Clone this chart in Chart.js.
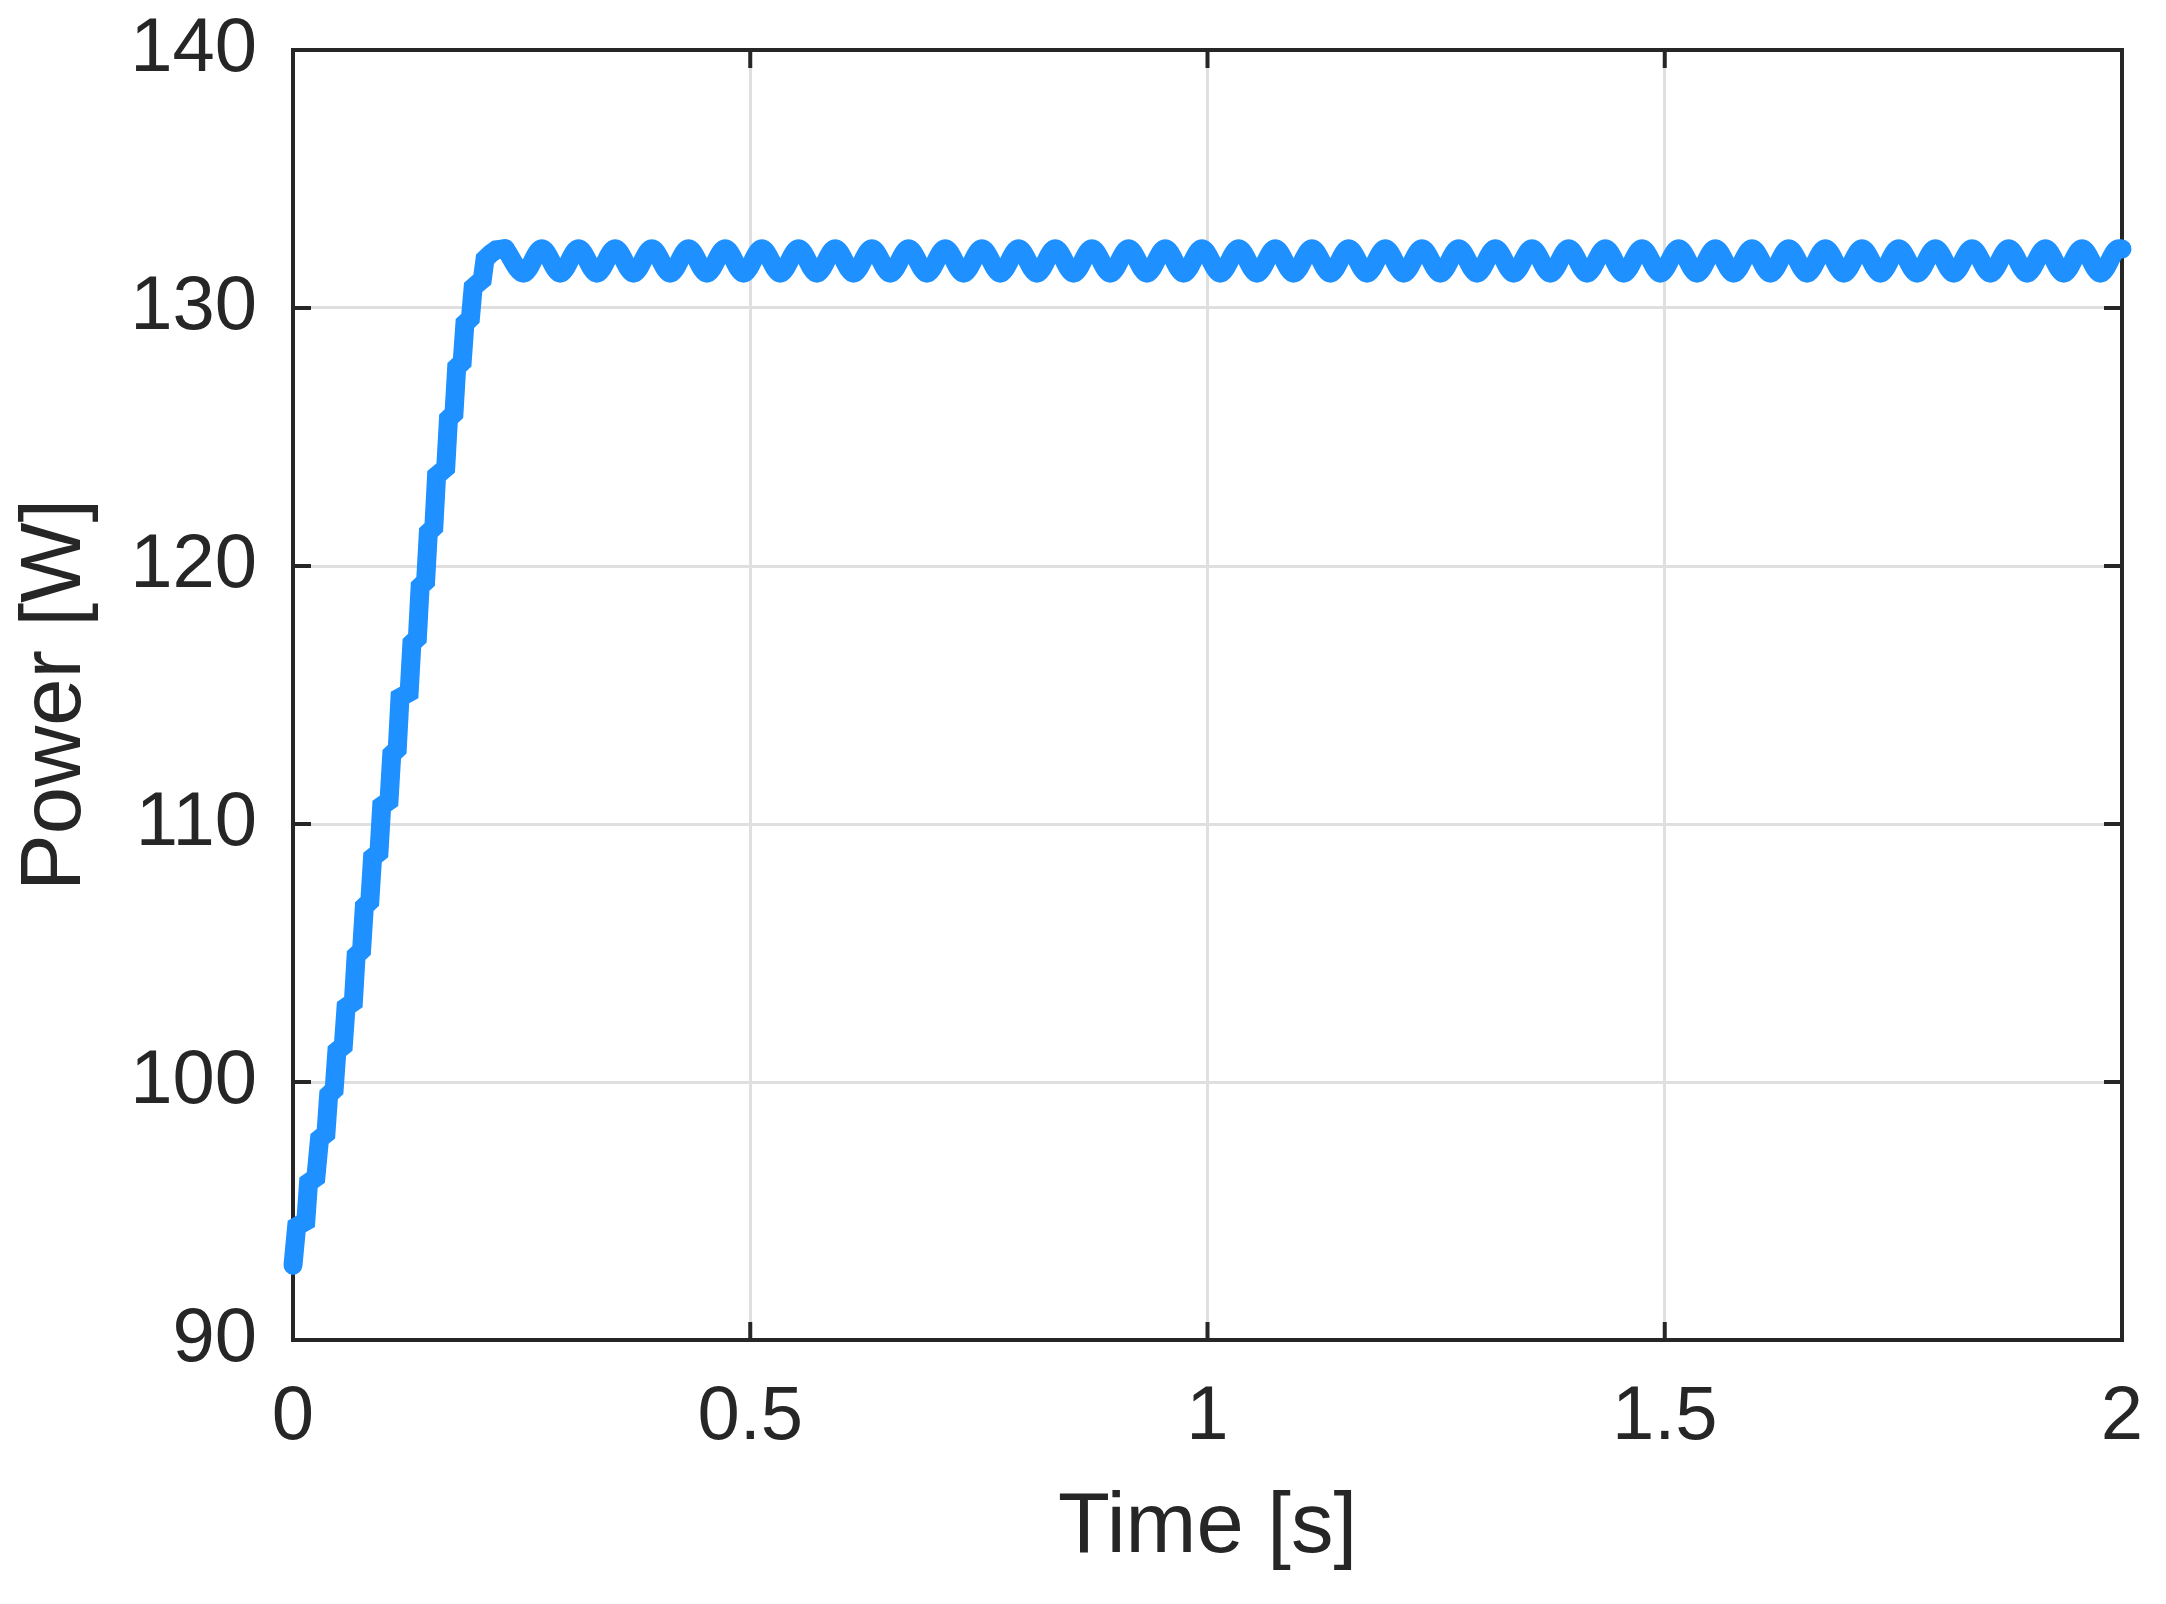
<!DOCTYPE html>
<html>
<head>
<meta charset="utf-8">
<title>Power [W]</title>
<script src="https://cdn.jsdelivr.net/npm/chart.js@4.4.1/dist/chart.umd.min.js"></script>
<style>
  html, body { margin: 0; padding: 0; background: #ffffff; }
  #chart { display: block; }
</style>
</head>
<body>
<canvas id="chart" width="2166" height="1604"></canvas>
<script>
// start-up ramp, a staircase (s, W)
const rampTime = [0.000, 0.004, 0.014, 0.017, 0.025, 0.029, 0.036, 0.039, 0.045, 0.048,
    0.055, 0.058, 0.066, 0.069, 0.075, 0.078, 0.084, 0.087, 0.094, 0.097,
    0.105, 0.108, 0.114, 0.117, 0.127, 0.130, 0.136, 0.139, 0.145, 0.148,
    0.154, 0.157, 0.167, 0.170, 0.176, 0.179, 0.185, 0.188, 0.194, 0.197,
    0.207, 0.210, 0.216, 0.222, 0.232];
const rampPower = [92.9, 94.4, 94.6, 96.1, 96.3, 97.8, 98.0, 99.5, 99.7, 101.2,
    101.4, 102.9, 103.1, 104.9, 105.1, 106.8, 107.0, 108.7, 108.9, 110.7,
    110.9, 112.7, 112.9, 114.9, 115.1, 117.0, 117.2, 119.2, 119.4, 121.3,
    121.5, 123.5, 123.8, 125.7, 125.9, 127.7, 127.9, 129.4, 129.6, 130.8,
    131.1, 131.9, 132.1, 132.25, 132.3];

// steady state ripple: peaks and troughs, in turn
const rippleTime = [0.2320, 0.2521, 0.2721, 0.2922, 0.3122, 0.3323, 0.3523, 0.3724, 0.3924, 0.4125,
    0.4325, 0.4526, 0.4726, 0.4927, 0.5127, 0.5328, 0.5528, 0.5729, 0.5929, 0.6130,
    0.6330, 0.6531, 0.6731, 0.6932, 0.7132, 0.7333, 0.7533, 0.7734, 0.7934, 0.8135,
    0.8335, 0.8536, 0.8736, 0.8937, 0.9137, 0.9338, 0.9538, 0.9739, 0.9939, 1.0140,
    1.0340, 1.0541, 1.0741, 1.0942, 1.1142, 1.1343, 1.1543, 1.1744, 1.1944, 1.2145,
    1.2345, 1.2546, 1.2746, 1.2947, 1.3147, 1.3348, 1.3548, 1.3749, 1.3949, 1.4150,
    1.4350, 1.4551, 1.4751, 1.4952, 1.5152, 1.5353, 1.5553, 1.5754, 1.5954, 1.6155,
    1.6355, 1.6556, 1.6756, 1.6957, 1.7157, 1.7358, 1.7558, 1.7759, 1.7959, 1.8160,
    1.8360, 1.8561, 1.8761, 1.8962, 1.9162, 1.9363, 1.9563, 1.9764, 1.9964, 2.0000];
const ripplePower = [132.3, 131.35, 132.3, 131.35, 132.3, 131.35, 132.3, 131.35, 132.3, 131.35,
    132.3, 131.35, 132.3, 131.35, 132.3, 131.35, 132.3, 131.35, 132.3, 131.35,
    132.3, 131.35, 132.3, 131.35, 132.3, 131.35, 132.3, 131.35, 132.3, 131.35,
    132.3, 131.35, 132.3, 131.35, 132.3, 131.35, 132.3, 131.35, 132.3, 131.35,
    132.3, 131.35, 132.3, 131.35, 132.3, 131.35, 132.3, 131.35, 132.3, 131.35,
    132.3, 131.35, 132.3, 131.35, 132.3, 131.35, 132.3, 131.35, 132.3, 131.35,
    132.3, 131.35, 132.3, 131.35, 132.3, 131.35, 132.3, 131.35, 132.3, 131.35,
    132.3, 131.35, 132.3, 131.35, 132.3, 131.35, 132.3, 131.35, 132.3, 131.35,
    132.3, 131.35, 132.3, 131.35, 132.3, 131.35, 132.3, 131.35, 132.3, 132.29];

const xTicks = [0, 0.5, 1, 1.5, 2];
const yTicks = [90, 100, 110, 120, 130, 140];
const xTitle = 'Time [s]';
const yTitle = 'Power [W]';

const lineColor = '#1e90ff';
const axisColor = '#262626';
const gridColor = '#dfdfdf';

Chart.defaults.font.family = '"Liberation Sans", Arial, Helvetica, sans-serif';
Chart.defaults.color = axisColor;

// MATLAB style box with inward ticks, drawn under the line
const axesBox = {
    id: 'axesBox',
    beforeDatasetsDraw(chart) {
        const { ctx, chartArea: a, scales: { x, y } } = chart;
        const len = 18;
        ctx.save();
        ctx.strokeStyle = axisColor;
        ctx.lineWidth = 4;
        ctx.beginPath();
        xTicks.forEach(v => {
            const px = x.getPixelForValue(v);
            ctx.moveTo(px, a.bottom); ctx.lineTo(px, a.bottom - len);
            ctx.moveTo(px, a.top); ctx.lineTo(px, a.top + len);
        });
        yTicks.forEach(v => {
            const py = y.getPixelForValue(v);
            ctx.moveTo(a.left, py); ctx.lineTo(a.left + len, py);
            ctx.moveTo(a.right, py); ctx.lineTo(a.right - len, py);
        });
        ctx.stroke();
        ctx.strokeRect(a.left, a.top, a.right - a.left, a.bottom - a.top);
        ctx.restore();
    }
};

const toPoints = (xs, ys) => xs.map((t, i) => ({ x: t, y: ys[i] }));

new Chart(document.getElementById('chart'), {
    type: 'line',
    data: {
        datasets: [{
            data: toPoints(rampTime, rampPower),
            borderColor: lineColor,
            borderWidth: 19,
            tension: 0,
            borderJoinStyle: 'miter',
            borderCapStyle: 'round',
            pointRadius: 0,
            clip: false
        }, {
            data: toPoints(rippleTime, ripplePower),
            borderColor: lineColor,
            borderWidth: 19,
            cubicInterpolationMode: 'monotone',
            borderJoinStyle: 'round',
            borderCapStyle: 'round',
            pointRadius: 0,
            clip: false
        }]
    },
    options: {
        responsive: false,
        animation: false,
        devicePixelRatio: 1,
        layout: { padding: { top: 50, right: 44, bottom: 0, left: 0 } },
        plugins: {
            legend: { display: false },
            tooltip: { enabled: false }
        },
        scales: {
            x: {
                type: 'linear',
                min: 0,
                max: 2,
                afterBuildTicks: s => { s.ticks = xTicks.map(v => ({ value: v })); },
                afterFit: s => {
                    s.height = 264;
                    s.paddingLeft = 0;
                    s.paddingRight = 0;
                },
                grid: { color: gridColor, lineWidth: 3, drawTicks: false },
                border: { display: false },
                ticks: {
                    padding: 32, maxRotation: 0, autoSkip: false, color: axisColor, font: { size: 76 },
                    callback: v => String(v)
                },
                title: { display: true, text: xTitle, color: axisColor, font: { size: 85 }, padding: { top: 0, bottom: 24 } }
            },
            y: {
                type: 'linear',
                min: 90,
                max: 140,
                afterBuildTicks: s => { s.ticks = yTicks.map(v => ({ value: v })); },
                afterFit: s => {
                    s.width = 293;
                    s.paddingTop = 0;
                    s.paddingBottom = 0;
                },
                grid: { color: gridColor, lineWidth: 3, drawTicks: false },
                border: { display: false },
                ticks: {
                    padding: 36, autoSkip: false, color: axisColor, font: { size: 76 },
                    callback: v => String(v)
                },
                title: { display: true, text: yTitle, color: axisColor, font: { size: 85 }, padding: { top: 6, bottom: 0 } }
            }
        }
    },
    plugins: [axesBox]
});
</script>
</body>
</html>
